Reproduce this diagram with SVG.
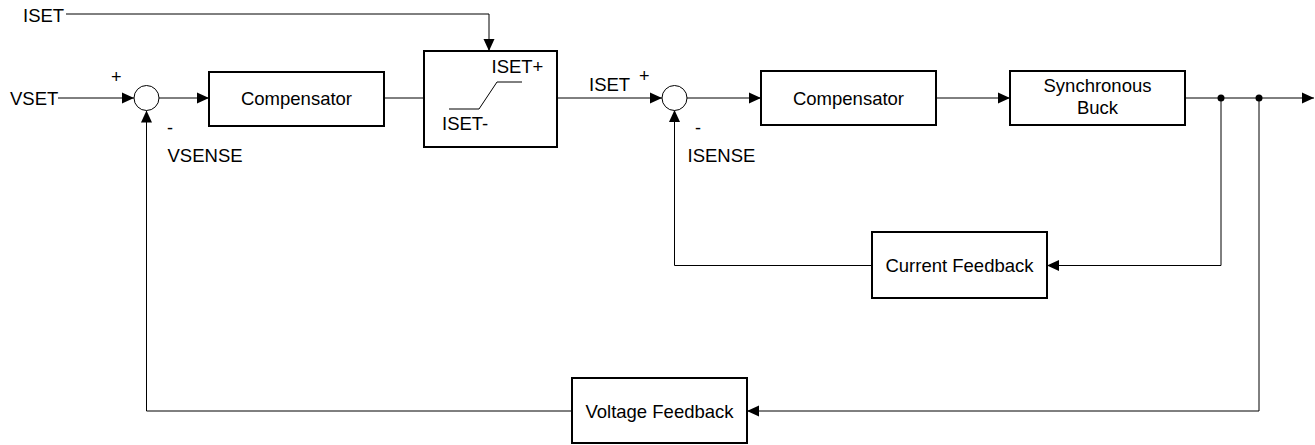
<svg xmlns="http://www.w3.org/2000/svg" width="1315" height="445" viewBox="0 0 1315 445">
<defs>
<marker id="arr" markerUnits="userSpaceOnUse" markerWidth="12" markerHeight="12" refX="12" refY="6" orient="auto">
<path d="M0,0.5 L12,6 L0,11.5 Z" fill="#000"/>
</marker>
<style>
.box{fill:#fff;stroke:#000;stroke-width:2}
.ln{fill:none;stroke:#000;stroke-width:1}
.t{font-family:"Liberation Sans",Arial,sans-serif;font-size:18.5px;fill:#000}
.m{text-anchor:middle}
.s{font-family:"Liberation Sans",Arial,sans-serif;font-size:18px;fill:#000}
</style>
</defs>
<g id="connectors">
<path class="ln" d="M66,14 H489 V51" marker-end="url(#arr)"/>
<path class="ln" d="M58,98 H134" marker-end="url(#arr)"/>
<path class="ln" d="M159,98 H209" marker-end="url(#arr)"/>
<path class="ln" d="M384,98 H424"/>
<path class="ln" d="M557,98 H662" marker-end="url(#arr)"/>
<path class="ln" d="M687,98 H761" marker-end="url(#arr)"/>
<path class="ln" d="M936,98 H1010" marker-end="url(#arr)"/>
<path class="ln" d="M1185,98 H1314" marker-end="url(#arr)"/>
<path class="ln" d="M1221,98 V265.5 H1047" marker-end="url(#arr)"/>
<path class="ln" d="M1259,98 V411 H747" marker-end="url(#arr)"/>
<path class="ln" d="M872,265.5 H674.5 V110" marker-end="url(#arr)"/>
<path class="ln" d="M572,411 H146.5 V110.5" marker-end="url(#arr)"/>
<circle cx="1221" cy="98" r="3.5" fill="#000"/>
<circle cx="1259" cy="98" r="3.5" fill="#000"/>
</g>
<g id="labels">
<text class="t" x="23" y="22">ISET</text>
<text class="t" x="10" y="105">VSET</text>
<text class="s" x="111" y="83">+</text>
<text class="s" x="167" y="134">-</text>
<text class="t" x="167.5" y="162">VSENSE</text>
<text class="t" x="589" y="91">ISET</text>
<text class="s" x="639" y="82">+</text>
<text class="s" x="695" y="134">-</text>
<text class="t" x="687.5" y="162">ISENSE</text>
</g>
<g id="sum1"><circle cx="146.5" cy="98" r="12.5" fill="#fff" stroke="#000" stroke-width="1"/></g>
<g id="sum2"><circle cx="674.5" cy="98" r="12.5" fill="#fff" stroke="#000" stroke-width="1"/></g>
<g id="comp1">
<rect class="box" x="209" y="72" width="175" height="54"/>
<text class="t m" x="296.5" y="105">Compensator</text>
</g>
<g id="limiter">
<rect class="box" x="424" y="51" width="133" height="96"/>
<path class="ln" d="M449,109 H479 L497,82 H522"/>
<text class="t" x="491.5" y="73">ISET+</text>
<text class="t" x="442" y="130">ISET-</text>
</g>
<g id="comp2">
<rect class="box" x="761" y="71" width="175" height="54"/>
<text class="t m" x="848.5" y="105">Compensator</text>
</g>
<g id="buck">
<rect class="box" x="1010" y="71" width="175" height="54"/>
<text class="t m" x="1097.5" y="92">Synchronous</text>
<text class="t m" x="1097.5" y="114">Buck</text>
</g>
<g id="currentfb">
<rect class="box" x="872" y="232" width="175" height="66"/>
<text class="t m" x="959.5" y="272">Current Feedback</text>
</g>
<g id="voltagefb">
<rect class="box" x="572" y="378" width="175" height="65"/>
<text class="t m" x="659.5" y="418">Voltage Feedback</text>
</g>
</svg>
